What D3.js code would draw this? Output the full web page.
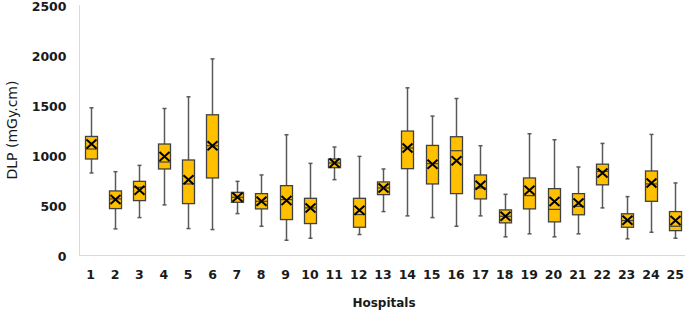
<!DOCTYPE html>
<html>
<head>
<meta charset="utf-8">
<script src="https://cdn.jsdelivr.net/npm/d3@7"></script>
<style>
  body { margin: 0; background: #fff; }
  svg { display: block; font-family: "DejaVu Sans", Verdana, sans-serif; }
</style>
</head>
<body>
<svg width="685" height="311"></svg>
<script>
// ---- Dados
const hospitals = d3.range(1, 26).map(String);
const whiskerMax = [1480, 840, 903, 1473, 1590, 1970, 743, 807, 1210, 923, 1087, 993, 867, 1680, 1397, 1573, 1100, 613, 1220, 1160, 887, 1123, 590, 1213, 727];
const q3 =         [1193, 647, 743, 1117, 957, 1410, 633, 620, 700, 573, 967, 573, 737, 1247, 1103, 1190, 807, 457, 777, 670, 620, 915, 418, 847, 440];
const medians =    [1067, 567, 683, 937, 717, 1100, 583, 543, 560, 477, 927, 410, 677, 1077, 920, 1050, 677, 393, 600, 462, 493, 843, 350, 717, 293];
const q1 =         [967, 470, 550, 867, 520, 777, 533, 467, 360, 320, 880, 283, 610, 870, 717, 620, 567, 327, 467, 337, 408, 708, 283, 543, 249];
const whiskerMin = [827, 267, 380, 507, 270, 260, 420, 293, 153, 173, 760, 210, 440, 397, 380, 293, 397, 187, 217, 187, 217, 477, 167, 233, 173];
const means =      [1117, 560, 653, 993, 760, 1100, 583, 543, 550, 477, 927, 453, 677, 1077, 915, 950, 703, 393, 653, 542, 525, 827, 353, 727, 350];
const yTicks = [0, 500, 1000, 1500, 2000, 2500];

const data = hospitals.map((h, i) => ({
    h, min: whiskerMin[i], q1: q1[i], med: medians[i], q3: q3[i], max: whiskerMax[i], mean: means[i]
}));

const svg = d3.select('svg');

// ---- Escalas
const mapX = d3.scaleBand().domain(hospitals).range([78.5, 687.5]);
const mapY = d3.scaleLinear().domain([0, 2500]).range([255.5, 6]);

// ---- Eixos (linhas cinza claro)
svg.append('line')
    .attr('x1', 79.5).attr('x2', 79.5).attr('y1', 5).attr('y2', 255.5)
    .attr('stroke', '#d9d9d9').attr('stroke-width', 1);
svg.append('line')
    .attr('x1', 79.5).attr('x2', 685).attr('y1', 255.5).attr('y2', 255.5)
    .attr('stroke', '#d9d9d9').attr('stroke-width', 1);

const eixoY = d3.axisLeft(mapY).tickValues(yTicks).tickFormat(d3.format('d')).tickSize(0).tickPadding(13);
const gy = svg.append('g').attr('transform', 'translate(79.5,0)').call(eixoY);
gy.select('.domain').remove();
gy.selectAll('text')
    .attr('fill', '#1a1a1a')
    .attr('dy', '0.38em')
    .style('font-size', '12.5px')
    .style('font-weight', 'bold')
    .style('font-family', '"DejaVu Sans", Verdana, sans-serif');

const eixoX = d3.axisBottom(mapX).tickSize(0).tickPadding(15);
const gx = svg.append('g').attr('transform', 'translate(0,255.5)').call(eixoX);
gx.select('.domain').remove();
gx.selectAll('text')
    .attr('fill', '#1a1a1a')
    .style('font-size', '12.5px')
    .style('font-weight', 'bold')
    .style('font-family', '"DejaVu Sans", Verdana, sans-serif');

// ---- Rótulos
svg.append('text')
    .attr('transform', 'rotate(-90)')
    .attr('x', -130)
    .attr('y', 17)
    .attr('text-anchor', 'middle')
    .attr('fill', '#1a1a1a')
    .style('font-size', '14px')
    .text('DLP (mGy.cm)');

svg.append('text')
    .attr('x', 384)
    .attr('y', 307)
    .attr('text-anchor', 'middle')
    .attr('fill', '#1a1a1a')
    .style('font-size', '12px')
    .style('font-weight', 'bold')
    .text('Hospitals');

// ---- Boxplots
const boxW = 12;
const g = svg.append('g');
const boxes = g.selectAll('g.box').data(data).enter().append('g')
    .attr('class', 'box')
    .attr('transform', d => `translate(${Math.round(mapX(d.h) + mapX.bandwidth() / 2) + 0.5},0)`);

// bigodes
boxes.append('line')
    .attr('x1', 0).attr('x2', 0)
    .attr('y1', d => mapY(d.max)).attr('y2', d => mapY(d.q3))
    .attr('stroke', '#595959').attr('stroke-width', 1.5);
boxes.append('line')
    .attr('x1', 0).attr('x2', 0)
    .attr('y1', d => mapY(d.q1)).attr('y2', d => mapY(d.min))
    .attr('stroke', '#595959').attr('stroke-width', 1.5);
boxes.append('line')
    .attr('x1', -2).attr('x2', 2)
    .attr('y1', d => mapY(d.max)).attr('y2', d => mapY(d.max))
    .attr('stroke', '#595959').attr('stroke-width', 1.5);
boxes.append('line')
    .attr('x1', -2).attr('x2', 2)
    .attr('y1', d => mapY(d.min)).attr('y2', d => mapY(d.min))
    .attr('stroke', '#595959').attr('stroke-width', 1.5);

// caixa
boxes.append('rect')
    .attr('x', -boxW / 2)
    .attr('y', d => mapY(d.q3))
    .attr('width', boxW)
    .attr('height', d => mapY(d.q1) - mapY(d.q3))
    .attr('fill', '#FFC000')
    .attr('stroke', '#404040')
    .attr('stroke-width', 1.3);

// mediana
boxes.append('line')
    .attr('x1', -boxW / 2).attr('x2', boxW / 2)
    .attr('y1', d => mapY(d.med)).attr('y2', d => mapY(d.med))
    .attr('stroke', '#404040').attr('stroke-width', 1.2);

// média (X)
boxes.append('path')
    .attr('d', d => {
        const y = mapY(d.mean);
        return `M-5,${y - 4.5}L5,${y + 4.5}M-5,${y + 4.5}L5,${y - 4.5}`;
    })
    .attr('stroke', '#000')
    .attr('stroke-width', 2)
    .attr('fill', 'none');
</script>
</body>
</html>
